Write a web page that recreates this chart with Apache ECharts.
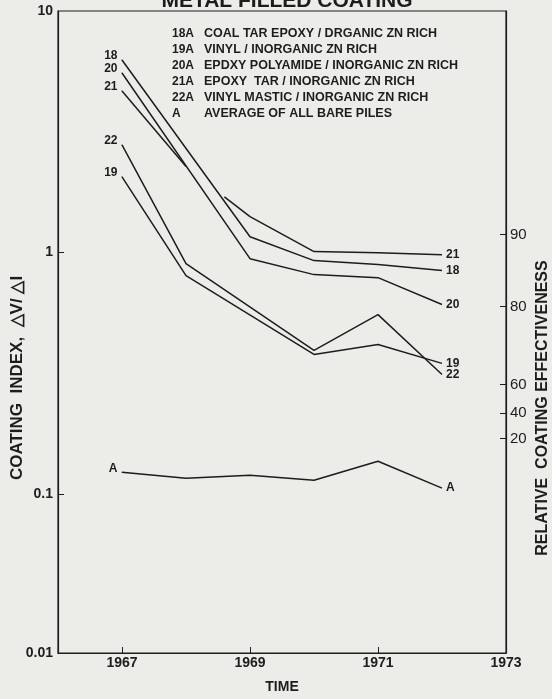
<!DOCTYPE html>
<html>
<head>
<meta charset="utf-8">
<script src="https://cdn.jsdelivr.net/npm/echarts@6/dist/echarts.min.js"></script>
<style>
html,body{margin:0;padding:0;background:#ecece9;}
#chart{width:552px;height:699px;}
</style>
</head>
<body>
<div id="chart"></div>
<script>
// ---- data ----
const chartTitle = 'METAL FILLED COATING';
const legendCodes = ['18A', '19A', '20A', '21A', '22A', 'A'];
const legendTexts = [
  'COAL TAR EPOXY / DRGANIC ZN RICH',
  'VINYL / INORGANIC ZN RICH',
  'EPDXY POLYAMIDE / INORGANIC ZN RICH',
  'EPOXY  TAR / INORGANIC ZN RICH',
  'VINYL MASTIC / INORGANIC ZN RICH',
  'AVERAGE OF ALL BARE PILES'
];

const years18 = [1967, 1969, 1970, 1971, 1972];
const values18 = [6.27, 1.164, 0.927, 0.892, 0.843];

const years20 = [1967, 1969, 1970, 1971, 1972];
const values20 = [5.54, 0.944, 0.811, 0.788, 0.610];

const years21a = [1967, 1968];
const values21a = [4.67, 2.27];
const years21b = [1968.6, 1969, 1970, 1971, 1972];
const values21b = [1.70, 1.41, 1.01, 1.0, 0.981];

const years22 = [1967, 1968, 1970, 1971, 1972];
const values22 = [2.79, 0.901, 0.394, 0.554, 0.313];

const years19 = [1967, 1968, 1970, 1971, 1972];
const values19 = [2.06, 0.803, 0.379, 0.417, 0.348];

const yearsA = [1967, 1968, 1969, 1970, 1971, 1972];
const valuesA = [0.1233, 0.1164, 0.1198, 0.1143, 0.1369, 0.106];

const xMin = 1966, xMax = 1973;
const xTickValues = [1967, 1969, 1971];
const xLabelValues = [1967, 1969, 1971, 1973];

const yMin = 0.02203, yMax = 10;
const leftTickValues = [0.1, 1];
const leftLabelValues = [0.02203, 0.1, 1, 10];
const leftLabelTexts = ['0.01', '0.1', '1', '10'];

const rightTickValues = [1.187, 0.598, 0.2848, 0.2163, 0.1703];
const rightLabelTexts = ['90', '80', '60', '40', '20'];

// ---- chart ----
const ink = '#1d1d1d';
const font = 'Liberation Sans, Arial, sans-serif';

function findLabel(vals, texts, v) {
  for (let i = 0; i < vals.length; i++) {
    if (Math.abs(Math.log10(vals[i]) - Math.log10(v)) < 0.01) return texts[i];
  }
  return '';
}

function makeSeries(name, xs, ys, startLabel, endLabel) {
  const data = xs.map((x, i) => {
    const item = { value: [x, ys[i]] };
    if (i === 0 && startLabel) {
      item.symbol = 'circle';
      item.symbolSize = 1;
      item.label = {
        show: true, formatter: startLabel, position: 'left', distance: 4,
        offset: [0, -4], color: ink, fontFamily: font, fontWeight: 'bold', fontSize: 12
      };
    }
    return item;
  });
  return {
    name: name, type: 'line', data: data, symbol: 'none', showSymbol: true,
    yAxisIndex: 0, animation: false, silent: true,
    itemStyle: { color: ink },
    lineStyle: { color: ink, width: 1.5 },
    endLabel: endLabel ? {
      show: true, formatter: endLabel, distance: 4, color: ink,
      fontFamily: font, fontWeight: 'bold', fontSize: 12
    } : { show: false }
  };
}

const graphics = [];
graphics.push({
  type: 'text', x: 287, y: 1,
  style: { text: chartTitle, fill: ink, font: 'bold 21px ' + font, align: 'center', verticalAlign: 'middle' }
});
const legendY0 = 34, legendStep = 15.9;
legendCodes.forEach((c, i) => {
  graphics.push({
    type: 'text', x: 172, y: legendY0 + i * legendStep,
    style: { text: c, fill: ink, font: 'bold 12px ' + font, align: 'left', verticalAlign: 'middle' }
  });
  graphics.push({
    type: 'text', x: 204, y: legendY0 + i * legendStep,
    style: { text: legendTexts[i], fill: ink, font: 'bold 12.5px ' + font, align: 'left', verticalAlign: 'middle' }
  });
});
graphics.push({
  type: 'text', x: 17, y: 378, rotation: Math.PI / 2,
  style: { text: 'COATING  INDEX,  \u25B3V/ \u25B3I', fill: ink, font: 'bold 17px ' + font, align: 'center', verticalAlign: 'middle' }
});
graphics.push({
  type: 'text', x: 543, y: 408, rotation: Math.PI / 2,
  style: { text: 'RELATIVE  COATING EFFECTIVENESS', fill: ink, font: 'bold 16px ' + font, align: 'center', verticalAlign: 'middle' }
});

const option = {
  backgroundColor: '#ecece9',
  animation: false,
  grid: { left: 58, right: 46, top: 11, bottom: 32, show: true, borderColor: ink, borderWidth: 1.2, backgroundColor: 'transparent' },
  xAxis: {
    type: 'value', min: xMin, max: xMax,
    name: 'TIME', nameLocation: 'middle', nameGap: 27,
    nameTextStyle: { color: ink, fontFamily: font, fontWeight: 'bold', fontSize: 14 },
    axisLine: { show: true, lineStyle: { color: ink, width: 1.2 } },
    axisTick: { show: true, inside: true, length: 6, customValues: xTickValues, lineStyle: { color: ink } },
    axisLabel: { show: true, customValues: xLabelValues, margin: 3, color: ink, fontFamily: font, fontWeight: 'bold', fontSize: 14, formatter: v => String(Math.round(v)) },
    splitLine: { show: false }
  },
  yAxis: [
    {
      type: 'log', logBase: 10, min: yMin, max: yMax, position: 'left',
      axisLine: { show: true, lineStyle: { color: ink, width: 1.2 } },
      axisTick: { show: true, inside: true, length: 6, customValues: leftTickValues, lineStyle: { color: ink } },
      axisLabel: { show: true, customValues: leftLabelValues, margin: 5, color: ink, fontFamily: font, fontWeight: 'bold', fontSize: 14,
        formatter: v => findLabel(leftLabelValues, leftLabelTexts, v) },
      splitLine: { show: false }
    },
    {
      type: 'log', logBase: 10, min: yMin, max: yMax, position: 'right',
      axisLine: { show: true, lineStyle: { color: ink, width: 1.2 } },
      axisTick: { show: true, inside: true, length: 6, customValues: rightTickValues, lineStyle: { color: ink } },
      axisLabel: { show: true, customValues: rightTickValues, margin: 4, color: ink, fontFamily: font, fontSize: 15,
        formatter: v => findLabel(rightTickValues, rightLabelTexts, v) },
      splitLine: { show: false }
    }
  ],
  graphic: graphics,
  series: [
    makeSeries('18', years18, values18, '18', '18'),
    makeSeries('20', years20, values20, '20', '20'),
    makeSeries('21a', years21a, values21a, '21', null),
    makeSeries('21b', years21b, values21b, null, '21'),
    makeSeries('22', years22, values22, '22', '22'),
    makeSeries('19', years19, values19, '19', '19'),
    makeSeries('A', yearsA, valuesA, 'A', 'A')
  ]
};

const chart = echarts.init(document.getElementById('chart'), null, { renderer: 'canvas' });
chart.setOption(option);
</script>
</body>
</html>
